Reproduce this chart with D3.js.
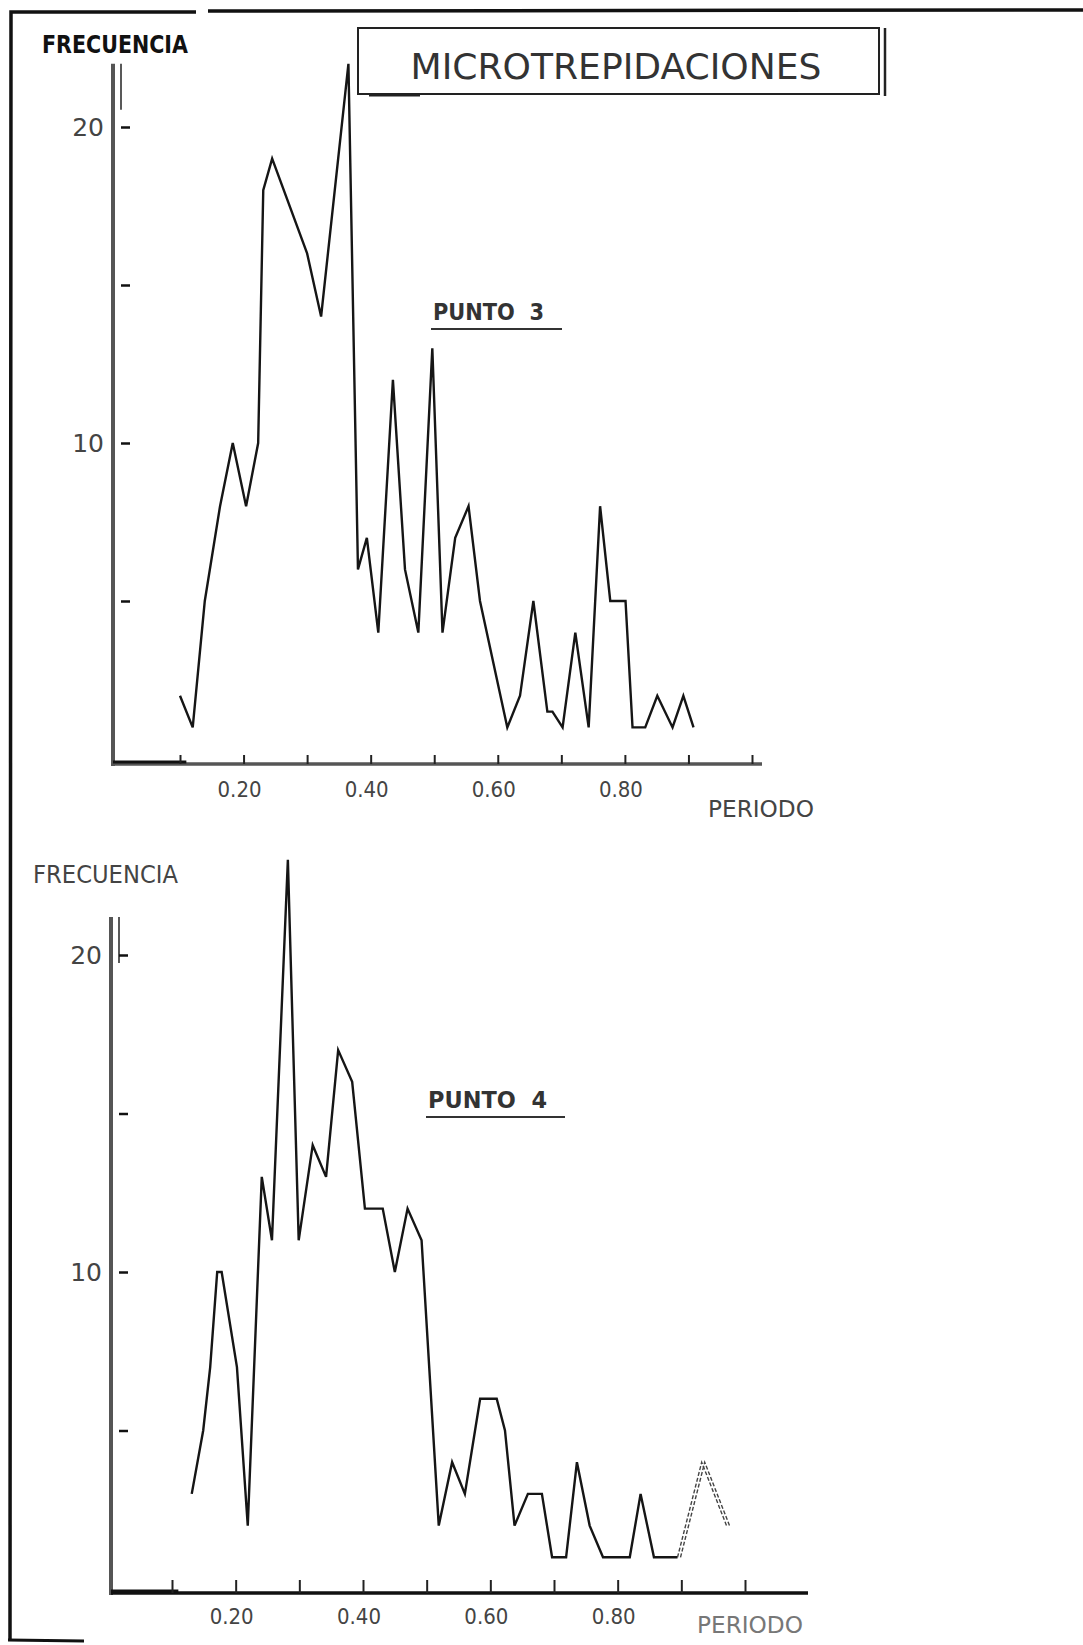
<!DOCTYPE html>
<html>
<head>
<meta charset="utf-8">
<script src="https://cdn.jsdelivr.net/npm/d3@7"></script>
<style>
  body { margin: 0; background: #fff; }
  svg { display: block; }
  text { font-family: "DejaVu Sans", sans-serif; }
</style>
</head>
<body>
<div id="chart"></div>
<script>
// Punto 3 (upper chart)
const punto3Periodo = [0.100, 0.120, 0.139, 0.163, 0.183, 0.204, 0.223, 0.231, 0.245, 0.300, 0.322, 0.365,
  0.380, 0.394, 0.412, 0.435, 0.454, 0.475, 0.497, 0.513, 0.533, 0.554, 0.572, 0.615, 0.635, 0.656,
  0.678, 0.686, 0.702, 0.722, 0.743, 0.761, 0.777, 0.801, 0.812, 0.832, 0.851, 0.875, 0.892, 0.908];
const punto3Frecuencia = [2, 1, 5, 8, 10, 8, 10, 18, 19, 16, 14, 22,
  6, 7, 4, 12, 6, 4, 13, 4, 7, 8, 5, 1, 2, 5,
  1.5, 1.5, 1, 4, 1, 8, 5, 5, 1, 1, 2, 1, 2, 1];

// Punto 4 (lower chart)
const punto4Periodo = [0.131, 0.149, 0.160, 0.171, 0.178, 0.202, 0.219, 0.241, 0.257, 0.282, 0.299, 0.321,
  0.342, 0.361, 0.383, 0.403, 0.431, 0.450, 0.470, 0.492, 0.519, 0.540, 0.560, 0.584, 0.610, 0.623,
  0.638, 0.659, 0.681, 0.697, 0.719, 0.736, 0.756, 0.777, 0.819, 0.836, 0.857, 0.894, 0.932, 0.971];
const punto4Frecuencia = [3, 5, 7, 10, 10, 7, 2, 13, 11, 23, 11, 14,
  13, 17, 16, 12, 12, 10, 12, 11, 2, 4, 3, 6, 6, 5,
  2, 3, 3, 1, 1, 4, 2, 1, 1, 3, 1, 1, 4, 2];
const punto4DashedFrom = 37; // last segment drawn as a faint double line

const yTicks = [5, 10, 15, 20];
const yTickLabels = [10, 20];
const xTicks = [0.1, 0.2, 0.3, 0.4, 0.5, 0.6, 0.7, 0.8, 0.9, 1.0];
const xTickLabels = [0.2, 0.4, 0.6, 0.8];

const width = 1083, height = 1645;
const svg = d3.select('#chart').append('svg').attr('width', width).attr('height', height);

// page frame from the scanned sheet
svg.append('path').attr('d', 'M10,1640 L11,12 L196,12 M208,11 L1083,10')
  .attr('fill', 'none').attr('stroke', '#111').attr('stroke-width', 3.5);
svg.append('line').attr('x1', 8).attr('x2', 84).attr('y1', 1640).attr('y2', 1641)
  .attr('stroke', '#111').attr('stroke-width', 3);

// title box
svg.append('rect').attr('x', 358).attr('y', 28).attr('width', 521).attr('height', 66)
  .attr('fill', 'none').attr('stroke', '#222').attr('stroke-width', 2);
svg.append('line').attr('x1', 885).attr('x2', 885).attr('y1', 28).attr('y2', 96)
  .attr('stroke', '#222').attr('stroke-width', 2.5);
svg.append('line').attr('x1', 369).attr('x2', 420).attr('y1', 95).attr('y2', 95)
  .attr('stroke', '#222').attr('stroke-width', 3);
svg.append('text').attr('x', 616).attr('y', 79).attr('text-anchor', 'middle')
  .attr('font-size', 35).attr('fill', '#333')
  .attr('textLength', 411).attr('lengthAdjust', 'spacingAndGlyphs')
  .text('MICROTREPIDACIONES');

function drawChart(cfg) {
  const x = d3.scaleLinear().domain([0.1, 1.0]).range(cfg.xRange);
  const y = d3.scaleLinear().domain([0, 20]).range(cfg.yRange);
  const g = svg.append('g');

  // y axis
  g.append('line').attr('x1', cfg.axisX).attr('x2', cfg.axisX)
    .attr('y1', y(cfg.yTop)).attr('y2', cfg.baseY + 2)
    .attr('stroke', '#555').attr('stroke-width', 4);
  g.append('line').attr('x1', cfg.axisX + 8).attr('x2', cfg.axisX + 8)
    .attr('y1', y(cfg.yTop)).attr('y2', y(cfg.yTop) + 46)
    .attr('stroke', '#222').attr('stroke-width', 1.5);
  g.append('g').attr('transform', `translate(${cfg.axisX + 8},0)`)
    .call(d3.axisRight(y).tickValues(yTicks).tickSize(9).tickFormat(''))
    .call(s => s.select('.domain').remove())
    .call(s => s.selectAll('.tick line').attr('stroke', '#111').attr('stroke-width', 2.5));
  g.selectAll('.ylab').data(yTickLabels).enter().append('text')
    .attr('x', cfg.axisX - 9).attr('y', d => y(d) + 9)
    .attr('text-anchor', 'end').attr('font-size', 25).attr('fill', '#444')
    .text(d => d);

  // x axis
  g.append('line').attr('x1', cfg.axisX).attr('x2', cfg.axisEnd)
    .attr('y1', cfg.baseY).attr('y2', cfg.baseY)
    .attr('stroke', cfg.baseColor).attr('stroke-width', 3.5);
  g.append('line').attr('x1', cfg.axisX).attr('x2', x(0.11))
    .attr('y1', cfg.baseY - 2).attr('y2', cfg.baseY - 2)
    .attr('stroke', '#111').attr('stroke-width', 3);
  g.append('g').attr('transform', `translate(0,${cfg.baseY})`)
    .call(d3.axisTop(x).tickValues(xTicks).tickSize(cfg.tickLen).tickFormat(''))
    .call(s => s.select('.domain').remove())
    .call(s => s.selectAll('.tick line').attr('stroke', '#222').attr('stroke-width', 2));
  g.selectAll('.xlab').data(xTickLabels).enter().append('text')
    .attr('x', d => x(d) - 4).attr('y', cfg.xLabelY)
    .attr('text-anchor', 'middle').attr('font-size', 22).attr('fill', '#444')
    .attr('textLength', 44).attr('lengthAdjust', 'spacingAndGlyphs')
    .text(d => d.toFixed(2));
  g.append('text').attr('x', cfg.periodoX).attr('y', cfg.periodoY)
    .attr('font-size', 23).attr('fill', cfg.periodoColor)
    .attr('textLength', 106).attr('lengthAdjust', 'spacingAndGlyphs')
    .text('PERIODO');

  // y title
  g.append('text').attr('x', cfg.freqX).attr('y', cfg.freqY)
    .attr('font-size', 24).attr('font-weight', cfg.freqWeight).attr('fill', cfg.freqColor)
    .attr('textLength', cfg.freqLen).attr('lengthAdjust', 'spacingAndGlyphs')
    .text('FRECUENCIA');

  // point label
  g.append('text').attr('x', cfg.puntoX).attr('y', cfg.puntoY)
    .attr('font-size', 23).attr('fill', '#333').attr('font-weight', 'bold')
    .attr('textLength', cfg.puntoLen).attr('lengthAdjust', 'spacingAndGlyphs')
    .attr('xml:space', 'preserve')
    .text(cfg.punto);
  g.append('line').attr('x1', cfg.puntoX - 2).attr('x2', cfg.puntoX + cfg.puntoLen + 18)
    .attr('y1', cfg.puntoY + 9).attr('y2', cfg.puntoY + 9)
    .attr('stroke', '#333').attr('stroke-width', 2.2);

  // data line
  const pts = cfg.periodo.map((p, i) => [p, cfg.frec[i]]);
  const line = d3.line().x(d => x(d[0])).y(d => y(d[1]));
  const solid = cfg.dashFrom ? pts.slice(0, cfg.dashFrom + 1) : pts;
  g.append('path').attr('d', line(solid))
    .attr('fill', 'none').attr('stroke', '#151515').attr('stroke-width', 2.4)
    .attr('stroke-linejoin', 'miter');
  if (cfg.dashFrom) {
    const tail = pts.slice(cfg.dashFrom);
    [0, 3].forEach(dx => {
      g.append('path').attr('d', line(tail)).attr('transform', `translate(${dx},0)`)
        .attr('fill', 'none').attr('stroke', '#444').attr('stroke-width', 1.4)
        .attr('stroke-dasharray', '4,2');
    });
  }
}

drawChart({
  periodo: punto3Periodo, frec: punto3Frecuencia,
  xRange: [180, 752], yRange: [759, 127], yTop: 22.0,
  axisX: 113, axisEnd: 762, baseY: 764, baseColor: '#555', tickLen: 9,
  xLabelY: 797, periodoX: 708, periodoY: 817, periodoColor: '#444',
  freqX: 42, freqY: 53, freqLen: 146, freqWeight: 'bold', freqColor: '#111',
  puntoX: 433, puntoY: 320, puntoLen: 111, punto: 'PUNTO  3'
});

drawChart({
  periodo: punto4Periodo, frec: punto4Frecuencia, dashFrom: punto4DashedFrom,
  xRange: [172, 745], yRange: [1589, 955], yTop: 21.2,
  axisX: 111, axisEnd: 808, baseY: 1593, baseColor: '#111', tickLen: 13,
  xLabelY: 1624, periodoX: 697, periodoY: 1633, periodoColor: '#777',
  freqX: 33, freqY: 883, freqLen: 145, freqWeight: 'normal', freqColor: '#444',
  puntoX: 428, puntoY: 1108, puntoLen: 119, punto: 'PUNTO  4'
});
</script>
</body>
</html>
